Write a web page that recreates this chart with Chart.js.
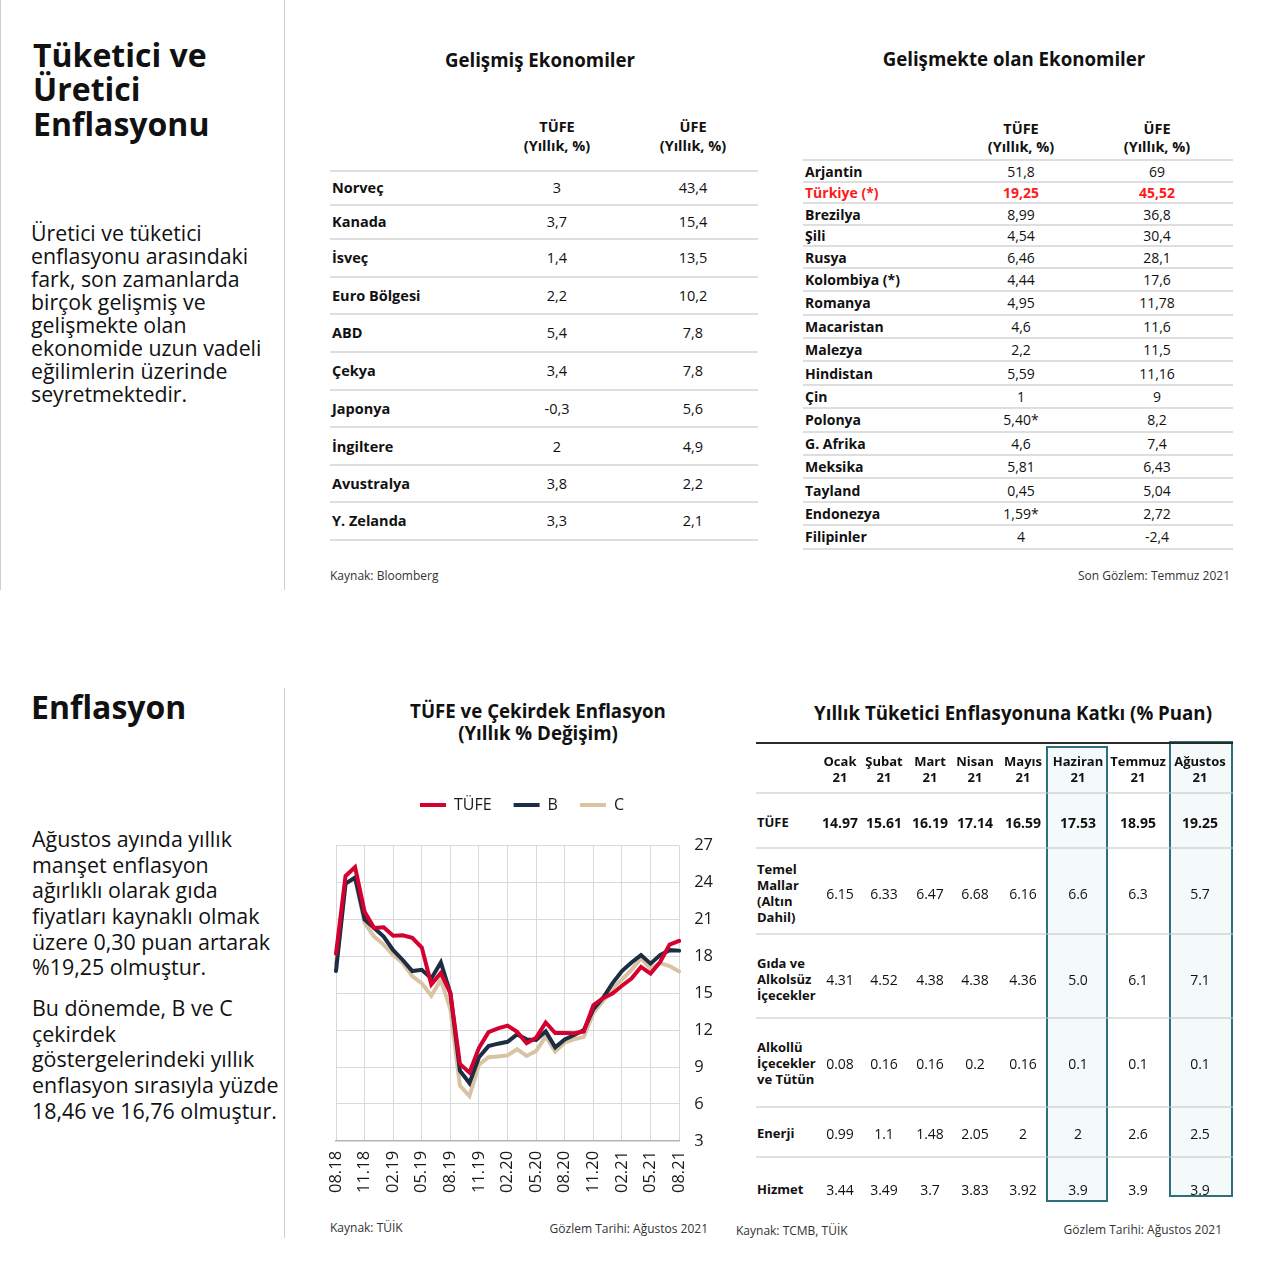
<!DOCTYPE html>
<html lang="tr">
<head>
<meta charset="utf-8">
<title>Enflasyon</title>
<script src="https://cdn.jsdelivr.net/npm/chart.js@4.4.1/dist/chart.umd.min.js"></script>
<style>
  body { margin: 0; width: 1280px; height: 1272px; position: relative; overflow: hidden;
         background: #fff; color: #111; font-family: 'Open Sans', sans-serif; }
  .a { position: absolute; white-space: pre; }
  .ln { position: absolute; }
  #wrap { position: absolute; left: 300px; top: 775px; width: 456px; height: 442px; }
  #wrap canvas { display: block; }
</style>
</head>
<body>
<div id="wrap"><canvas id="cpiChart" width="456" height="442"></canvas></div>
<script>
// --- line chart data (yıllık % değişim) ---
const months = ['08.18', '09.18', '10.18', '11.18', '12.18',
  '01.19', '02.19', '03.19', '04.19', '05.19', '06.19', '07.19', '08.19', '09.19', '10.19', '11.19', '12.19',
  '01.20', '02.20', '03.20', '04.20', '05.20', '06.20', '07.20', '08.20', '09.20', '10.20', '11.20', '12.20',
  '01.21', '02.21', '03.21', '04.21', '05.21', '06.21', '07.21', '08.21'];
const tufe = [18.2, 24.52, 25.24, 21.62, 20.30,
  20.35, 19.67, 19.71, 19.50, 18.71, 15.72, 16.65, 15.01, 9.26, 8.55, 10.56, 11.84,
  12.15, 12.37, 11.86, 10.94, 11.39, 12.62, 11.76, 11.77, 11.75, 11.89, 14.03, 14.60,
  14.97, 15.61, 16.19, 17.14, 16.59, 17.53, 18.95, 19.25];
const bCore = [16.8, 23.9, 24.4, 21.0, 20.3,
  19.6, 18.5, 17.7, 16.8, 16.9, 16.2, 17.5, 15.0, 8.7, 7.7, 9.8, 10.7,
  10.9, 11.05, 11.65, 11.25, 11.2, 11.9, 10.6, 11.25, 11.6, 12.0, 13.7, 14.6,
  15.8, 16.8, 17.5, 18.1, 17.4, 18.1, 18.5, 18.46];
const cCore = [17.4, 23.9, 24.35, 20.7, 19.6,
  18.95, 18.1, 17.45, 16.4, 15.8, 14.8, 16.1, 13.7, 7.5, 6.65, 9.2, 9.8,
  9.85, 9.95, 10.45, 9.9, 10.3, 11.5, 10.25, 11.0, 11.25, 11.45, 13.4, 14.35,
  15.4, 16.1, 16.9, 17.85, 17.0, 17.45, 17.2, 16.76];
const yTicks = [3, 6, 9, 12, 15, 18, 21, 24, 27];

// --- gelişmiş ekonomiler ---
const devNames = ['Norveç', 'Kanada', 'İsveç', 'Euro Bölgesi', 'ABD', 'Çekya', 'Japonya', 'İngiltere', 'Avustralya', 'Y. Zelanda'];
const devTufe = ['3', '3,7', '1,4', '2,2', '5,4', '3,4', '-0,3', '2', '3,8', '3,3'];
const devUfe = ['43,4', '15,4', '13,5', '10,2', '7,8', '7,8', '5,6', '4,9', '2,2', '2,1'];

// --- gelişmekte olan ekonomiler ---
const emNames = ['Arjantin', 'Türkiye (*)', 'Brezilya', 'Şili', 'Rusya', 'Kolombiya (*)', 'Romanya', 'Macaristan',
  'Malezya', 'Hindistan', 'Çin', 'Polonya', 'G. Afrika', 'Meksika', 'Tayland', 'Endonezya', 'Filipinler'];
const emTufe = ['51,8', '19,25', '8,99', '4,54', '6,46', '4,44', '4,95', '4,6', '2,2', '5,59', '1', '5,40*', '4,6', '5,81', '0,45', '1,59*', '4'];
const emUfe = ['69', '45,52', '36,8', '30,4', '28,1', '17,6', '11,78', '11,6', '11,5', '11,16', '9', '8,2', '7,4', '6,43', '5,04', '2,72', '-2,4'];

// --- katkı tablosu ---
const katkiMonths = ['Ocak', 'Şubat', 'Mart', 'Nisan', 'Mayıs', 'Haziran', 'Temmuz', 'Ağustos'];
const katkiRows = [
  ['TÜFE'],
  ['Temel', 'Mallar', '(Altın', 'Dahil)'],
  ['Gıda ve', 'Alkolsüz', 'İçecekler'],
  ['Alkollü', 'İçecekler', 've Tütün'],
  ['Enerji'],
  ['Hizmet']
];
const katkiTufe = ['14.97', '15.61', '16.19', '17.14', '16.59', '17.53', '18.95', '19.25'];
const katkiTemel = ['6.15', '6.33', '6.47', '6.68', '6.16', '6.6', '6.3', '5.7'];
const katkiGida = ['4.31', '4.52', '4.38', '4.38', '4.36', '5.0', '6.1', '7.1'];
const katkiAlkol = ['0.08', '0.16', '0.16', '0.2', '0.16', '0.1', '0.1', '0.1'];
const katkiEnerji = ['0.99', '1.1', '1.48', '2.05', '2', '2', '2.6', '2.5'];
const katkiHizmet = ['3.44', '3.49', '3.7', '3.83', '3.92', '3.9', '3.9', '3.9'];

const RED = '#d4002f', NAVY = '#1c2d44', BEIGE = '#d8c4a2', SEP = '#dedede';

// helpers
function put(x, y, text, o = {}) {
  const d = document.createElement('div');
  d.className = 'a';
  const size = o.size || 14, lh = o.lh || Math.round(size * 1.35);
  d.style.fontSize = size + 'px';
  d.style.lineHeight = lh + 'px';
  d.style.top = (y - lh / 2) + 'px';
  if (o.bold) d.style.fontWeight = 700;
  if (o.color) d.style.color = o.color;
  if (o.align === 'center') {
    d.style.left = (x - 200) + 'px'; d.style.width = '400px'; d.style.textAlign = 'center';
  } else if (o.align === 'right') {
    d.style.right = (1280 - x) + 'px'; d.style.textAlign = 'right';
  } else {
    d.style.left = x + 'px';
  }
  d.textContent = Array.isArray(text) ? text.join('\n') : text;
  document.body.appendChild(d);
}
function rect(x, y, w, h, bg, extra) {
  const d = document.createElement('div');
  d.className = 'ln';
  d.style.cssText += `left:${x}px;top:${y}px;width:${w}px;height:${h}px;background:${bg};` + (extra || '');
  document.body.appendChild(d);
}

// dividers
rect(0, 0, 1, 590, '#cfcfcf');
rect(284, 0, 1, 590, '#cfcfcf');
rect(284, 688, 1, 550, '#cfcfcf');

// left column texts
put(33, 55, ['Tüketici ve', 'Üretici', 'Enflasyonu'], { size: 32, lh: 34.5, bold: true });
put(31, 232, ['Üretici ve tüketici', 'enflasyonu arasındaki', 'fark, son zamanlarda', 'birçok gelişmiş ve',
  'gelişmekte olan', 'ekonomide uzun vadeli', 'eğilimlerin üzerinde', 'seyretmektedir.'], { size: 21.3, lh: 23 });
put(31, 707, 'Enflasyon', { size: 32, lh: 40, bold: true });
put(32, 839, ['Ağustos ayında yıllık', 'manşet enflasyon', 'ağırlıklı olarak gıda', 'fiyatları kaynaklı olmak',
  'üzere 0,30 puan artarak', '%19,25 olmuştur.'], { size: 21.4, lh: 25.6 });
put(32, 1008, ['Bu dönemde, B ve C', 'çekirdek', 'göstergelerindeki yıllık', 'enflasyon sırasıyla yüzde',
  '18,46 ve 16,76 olmuştur.'], { size: 21.4, lh: 25.6 });

// table 1: gelişmiş ekonomiler
put(540, 59, 'Gelişmiş Ekonomiler', { size: 18.7, bold: true, align: 'center' });
put(557, 126, ['TÜFE', '(Yıllık, %)'], { size: 14.5, lh: 19, bold: true, align: 'center' });
put(693, 126, ['ÜFE', '(Yıllık, %)'], { size: 14.5, lh: 19, bold: true, align: 'center' });
const rowH1 = [33.5, 34.3, 37.8, 37.5, 37.5, 38.2, 37.4, 37.6, 37.4, 37.5];
let yy = 171;
rect(330, yy - 1, 428, 2, SEP);
devNames.forEach((n, i) => {
  const cy = yy + rowH1[i] / 2 + 0.5;
  put(332, cy, n, { size: 14.5, bold: true });
  put(557, cy, devTufe[i], { size: 14.5, align: 'center' });
  put(693, cy, devUfe[i], { size: 14.5, align: 'center' });
  yy += rowH1[i];
  rect(330, yy - 1, 428, 2, SEP);
});
put(330, 576, 'Kaynak: Bloomberg', { size: 12, color: '#333' });

// table 2: gelişmekte olan ekonomiler
put(1014, 58, 'Gelişmekte olan Ekonomiler', { size: 18.7, bold: true, align: 'center' });
put(1021, 129, ['TÜFE', '(Yıllık, %)'], { size: 14.5, lh: 18, bold: true, align: 'center' });
put(1157, 129, ['ÜFE', '(Yıllık, %)'], { size: 14.5, lh: 18, bold: true, align: 'center' });
yy = 160.3;
rect(803, yy - 1, 430, 2, SEP);
emNames.forEach((n, i) => {
  const h = i < 5 ? 21.5 : 23.4;
  const cy = yy + h / 2 + 0.5;
  const tr = i === 1;
  const col = tr ? '#ff1a1a' : null;
  put(805, cy, n, { size: 14, lh: 18, bold: true, color: col });
  put(1021, cy, emTufe[i], { size: 14, lh: 18, align: 'center', bold: tr, color: col });
  put(1157, cy, emUfe[i], { size: 14, lh: 18, align: 'center', bold: tr, color: col });
  yy += h;
  rect(803, yy - 1, 430, 2, SEP);
});
put(1230, 576, 'Son Gözlem: Temmuz 2021', { size: 12, color: '#333', align: 'right' });

// line chart title + footers
put(538, 711, ['TÜFE ve Çekirdek Enflasyon', '(Yıllık % Değişim)'], { size: 18.7, lh: 22, bold: true, align: 'center' });
put(330, 1228, 'Kaynak: TÜİK', { size: 12, color: '#333' });
put(708, 1229, 'Gözlem Tarihi: Ağustos 2021', { size: 12, color: '#333', align: 'right' });

// table 3: katkı
put(1013, 712, 'Yıllık Tüketici Enflasyonuna Katkı (% Puan)', { size: 18.7, bold: true, align: 'center' });
rect(1046, 746, 62, 456, '#f4f9f9', 'box-sizing:border-box;border:2px solid #2f6e7d;');
rect(1169, 741, 64, 456, '#f4f9f9', 'box-sizing:border-box;border:2px solid #2f6e7d;');
rect(756, 742, 477, 2, '#2a2a2a');
[793, 848, 934, 1018, 1107, 1157].forEach(y => rect(756, y - 1, 477, 2, 'rgba(200,200,200,0.55)'));
const colX = [840, 884, 930, 975, 1023, 1078, 1138, 1200];
katkiMonths.forEach((m, i) => {
  put(colX[i], 761, [m, '21'], { size: 13, lh: 16, bold: true, align: 'center' });
});
const rowValues = [katkiTufe, katkiTemel, katkiGida, katkiAlkol, katkiEnerji, katkiHizmet];
const rowCenter = [822, 893, 979, 1063, 1133, 1189];
katkiRows.forEach((lab, r) => {
  const lh = 16;
  put(757, rowCenter[r] - (lab.length - 1) * lh / 2, lab, { size: 13, lh, bold: true });
  rowValues[r].forEach((v, i) => {
    put(colX[i], rowCenter[r], v, { size: 14, bold: r === 0, align: 'center' });
  });
});
put(736, 1231, 'Kaynak: TCMB, TÜİK', { size: 12, color: '#333' });
put(1222, 1230, 'Gözlem Tarihi: Ağustos 2021', { size: 12, color: '#333', align: 'right' });

// chart
Chart.defaults.font.family = "'Open Sans', sans-serif";
const legendGap = {
  id: 'legendGap',
  beforeInit(chart) {
    const fit = chart.legend.fit;
    chart.legend.fit = function () { fit.call(this); this.height += 22.5; };
  },
  afterLayout(chart) {
    // legend sits a little left of the plot centre in the original
    chart.legend.left -= 10;
    chart.legend.right -= 10;
  }
};

new Chart(document.getElementById('cpiChart'), {
  type: 'line',
  data: {
    labels: months,
    datasets: [
      { label: 'TÜFE', data: tufe, borderColor: RED, backgroundColor: RED, borderWidth: 4, pointRadius: 0, borderCapStyle: 'round' },
      { label: 'B', data: bCore, borderColor: NAVY, backgroundColor: NAVY, borderWidth: 4, pointRadius: 0, borderCapStyle: 'round' },
      { label: 'C', data: cCore, borderColor: BEIGE, backgroundColor: BEIGE, borderWidth: 4, pointRadius: 0, borderCapStyle: 'round' }
    ]
  },
  options: {
    responsive: false,
    animation: false,
    devicePixelRatio: 1,
    layout: { padding: { left: 36, right: 28, top: 0, bottom: 14 } },
    plugins: {
      tooltip: { enabled: false },
      legend: {
        position: 'top',
        labels: {
          usePointStyle: true,
          pointStyle: 'line',
          pointStyleWidth: 26,
          padding: 22,
          color: '#1a1a1a',
          font: { size: 16 }
        }
      }
    },
    scales: {
      x: {
        grid: {
          color: c => (c.index % 3 === 0 ? '#d9d9d9' : 'rgba(0,0,0,0)'),
          drawTicks: false
        },
        border: { color: '#b5b5b5', width: 1.5 },
        ticks: {
          autoSkip: false,
          minRotation: 90,
          maxRotation: 90,
          padding: 10,
          color: '#1a1a1a',
          font: { size: 16.5 },
          callback: (v, i) => (i % 3 === 0 ? months[i] : '')
        }
      },
      y: {
        position: 'right',
        min: yTicks[0],
        max: yTicks[yTicks.length - 1],
        afterBuildTicks: axis => { axis.ticks = yTicks.map(v => ({ value: v })); },
        grid: { color: '#d9d9d9', drawTicks: false },
        border: { display: false },
        ticks: { padding: 15, color: '#1a1a1a', font: { size: 16.5 } }
      }
    }
  },
  plugins: [legendGap]
});
</script>
</body>
</html>
